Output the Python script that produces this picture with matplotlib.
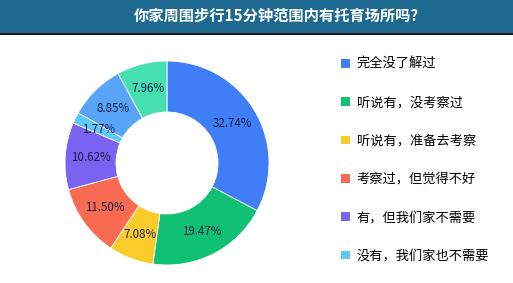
import matplotlib.pyplot as plt
from matplotlib.patches import Rectangle, Patch

plt.rcParams['font.family'] = ['Noto Sans CJK SC', 'DejaVu Sans']

title = "你家周围步行15分钟范围内有托育场所吗?"
categories = ["完全没了解过", "听说有，没考察过", "听说有，准备去考察",
              "考察过，但觉得不好", "有，但我们家不需要", "没有，我们家也不需要",
              "其他", "不清楚"]
values = [32.74, 19.47, 7.08, 11.50, 10.62, 1.77, 8.85, 7.96]
colors = ["#3F7EF6", "#10C173", "#FBCB2A", "#F86B52", "#7A63F0",
          "#5EC8F8", "#58A5F8", "#46E0B0"]

W, H = 513, 283
fig = plt.figure(figsize=(W / 100, H / 100), dpi=100)
fig.patch.set_facecolor("white")

# header bar
bar_h = 33
fig.add_artist(Rectangle((0, 1 - bar_h / H), 1, bar_h / H, transform=fig.transFigure,
                         facecolor="#1D6990", edgecolor="none"))
fig.add_artist(Rectangle((0, 1 - (bar_h + 1.5) / H), 1, 1.5 / H, transform=fig.transFigure,
                         facecolor="#1b1b24", edgecolor="none"))
fig.text(276 / W, 1 - 16 / H, title, color="white", fontsize=11, fontweight="bold",
         ha="center", va="center")

# donut
cx, cy, r = 167, 163, 102
ax = fig.add_axes([(cx - r) / W, (H - cy - r) / H, 2 * r / W, 2 * r / H])
wedges, texts = ax.pie(values, colors=colors, startangle=90, counterclock=False,
                       labels=[f"{v:.2f}%" for v in values], labeldistance=0.75,
                       wedgeprops=dict(width=0.5, edgecolor="white", linewidth=0.6),
                       textprops=dict(fontsize=8.3, color="#1a1f4a"))
for t in texts:
    t.set_ha("center")
    t.set_va("center")
ax.set_xlim(-1, 1)
ax.set_ylim(-1, 1)
ax.set_aspect("equal")
ax.axis("off")

# legend (first six entries visible)
handles = [Patch(facecolor=c, edgecolor="none") for c in colors[:6]]
fig.legend(handles, categories[:6], loc="upper left",
           bbox_to_anchor=(341 / W, 1 - 58 / H), frameon=False,
           fontsize=9.5, handlelength=0.65, handleheight=0.65, handletextpad=0.55,
           labelspacing=1.92, borderpad=0, borderaxespad=0)

fig.savefig("out.png", dpi=100)
